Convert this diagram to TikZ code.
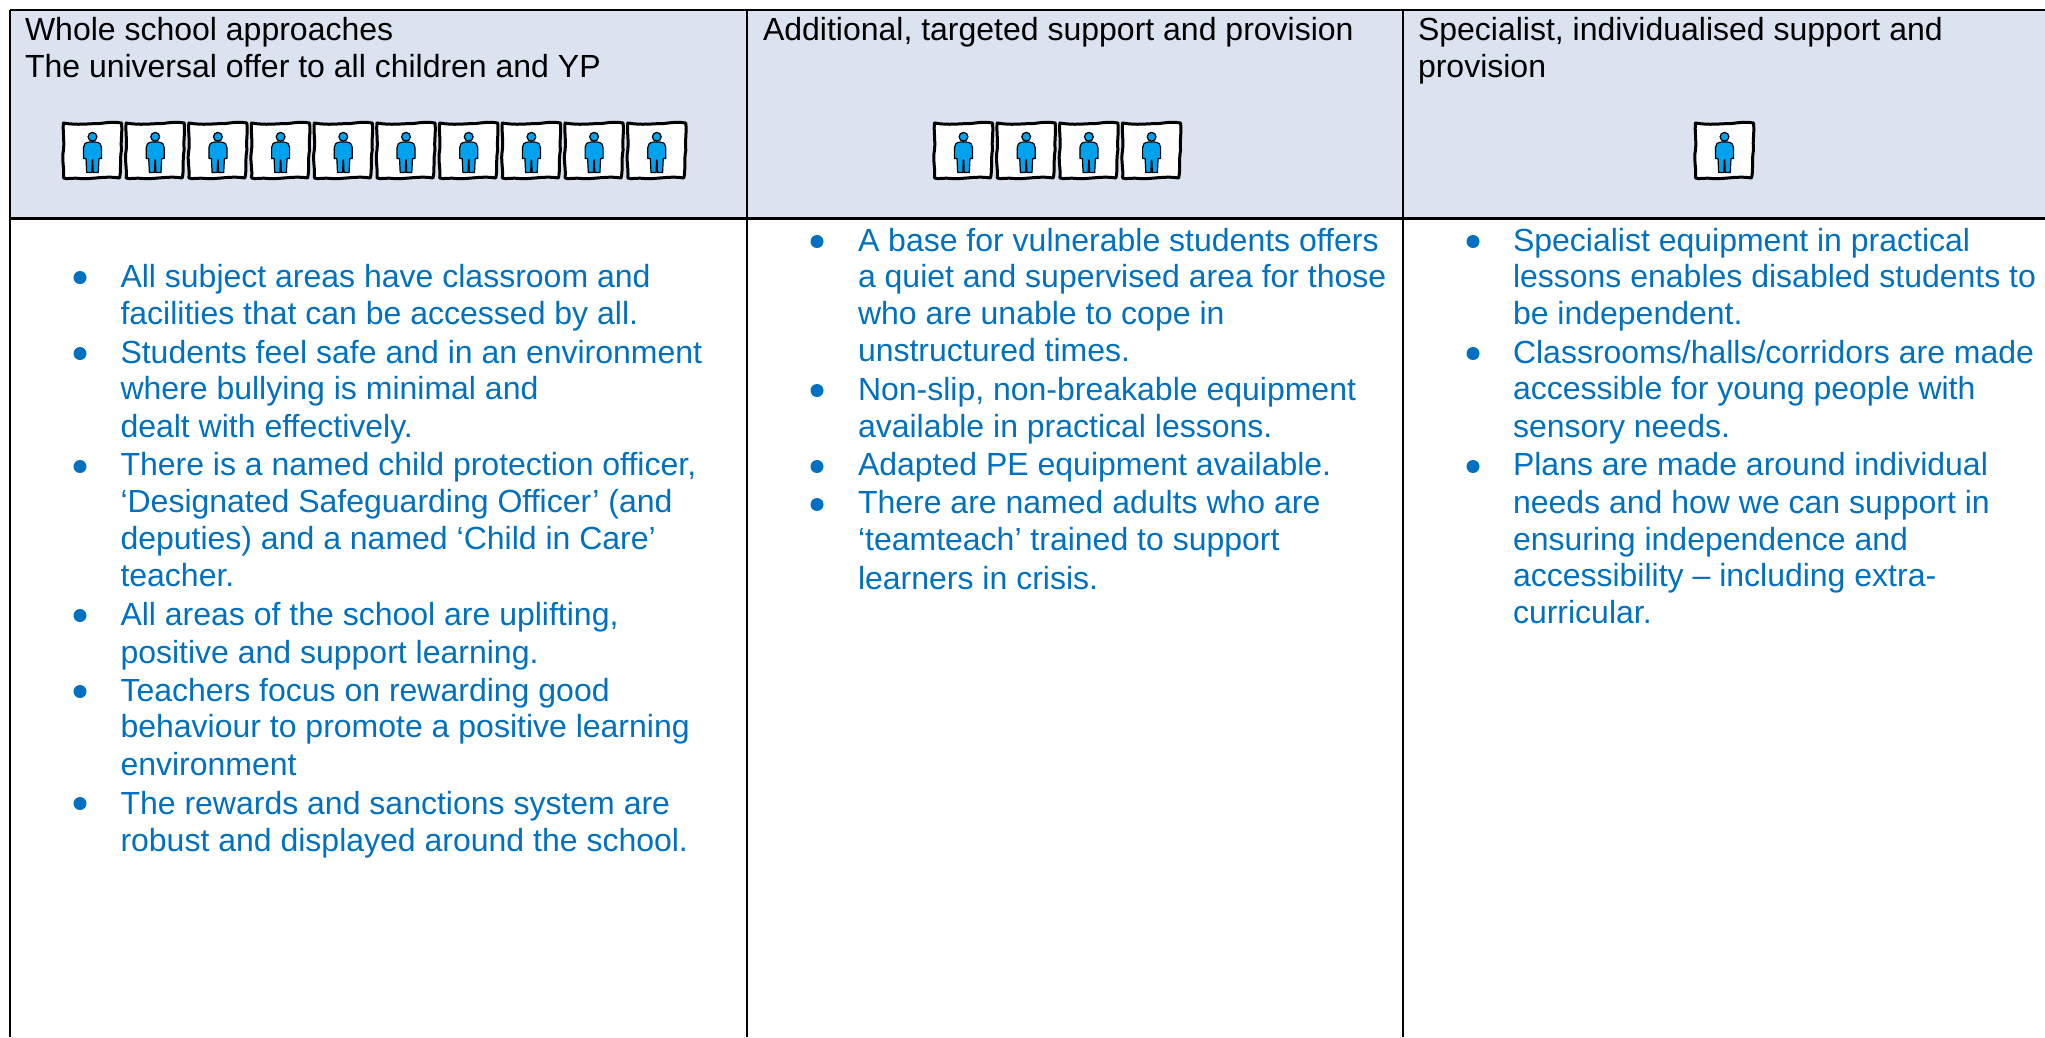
\documentclass[tikz,border=0pt]{standalone}
\usepackage{fontspec}
\setmainfont{Liberation Sans}
\definecolor{headbg}{HTML}{DAE3EF}
\definecolor{bluetxt}{HTML}{0070C0}
\definecolor{personblue}{HTML}{00A2EE}
\tikzset{
  rule/.style={draw=black,line width=2.4pt},
  headtxt/.style={anchor=base west,inner sep=0pt,outer sep=0pt,text=black,font=\fontsize{32}{37}\selectfont},
  bodytxt/.style={anchor=base west,inner sep=0pt,outer sep=0pt,text=bluetxt,font=\fontsize{32}{37}\selectfont},
  bulletdot/.style={circle,fill=bluetxt,inner sep=0pt,minimum size=13pt},
  person/.pic={
    \draw[line width=3pt,fill=white,line join=round]
      (1.5,1) .. controls (16,3.5) and (26,1.5) .. (38,1.5) .. controls (46,0.5) and (52,-0.5) .. (59.5,1)
      .. controls (60.5,12) and (58.5,18) .. (59.5,28) .. controls (57.5,38) and (59.5,48) .. (57.5,56)
      .. controls (44,53.5) and (30,57.5) .. (18,56.5) .. controls (10,55.5) and (5,57.5) .. (1.5,56)
      .. controls (2.5,46) and (-0.5,38) .. (1.5,28) .. controls (2.5,18) and (0.5,8) .. (1.5,1) -- cycle;
    \draw[line width=1.2pt,fill=personblue,line join=round]
      (27.5,20) -- (33.5,20) .. controls (38,20.5) and (39.5,22.5) .. (39.5,25.5) -- (39.5,36.5) -- (37,36.5) -- (36.3,50.5) -- (31.2,50.5) -- (30.7,38) -- (30.3,38) -- (29.8,50.5) -- (24.7,50.5) -- (24,36.5) -- (21.5,36.5) -- (21.5,25.5) .. controls (21.5,22.5) and (23,20.5) .. (27.5,20) -- cycle;
    \draw[line width=1.2pt,fill=personblue] (30.5,14.8) circle (4.4);
  }
}
\newcommand{\hl}[4]{\node[headtxt] (#1) at (#2,#3) {#4};}
\newcommand{\bl}[4]{\node[bodytxt] (#1) at ({#2},{#3+1}) {#4};}
\newcommand{\bu}[3]{\node[bulletdot] (#1) at (#2-1,#3+1.5) {};}
\begin{document}
\begin{tikzpicture}[x=1pt,y=-1pt]
\useasboundingbox (0,0) rectangle (2045,1037);
\coordinate (tl) at (10,10);
\coordinate (tr) at (2045,10);
\coordinate (hl) at (10,218.5);
\coordinate (hr) at (2045,218.5);
\coordinate (bl) at (10,1037);
\coordinate (c1t) at (747,10);
\coordinate (c1b) at (747,1037);
\coordinate (c2t) at (1403,10);
\coordinate (c2b) at (1403,1037);
\fill[headbg] (tl) rectangle (hr);
\draw[rule] (tl) -- (tr);
\draw[rule] (hl) -- (hr);
\draw[rule] (tl) -- (bl);
\draw[rule] (c1t) -- (c1b);
\draw[rule] (c2t) -- (c2b);
% header
\hl{h1a}{25}{40}{Whole school approaches}
\hl{h1b}{25}{77.5}{The universal offer to all children and YP}
\hl{h2a}{763}{40}{Additional, targeted support and provision}
\hl{h3a}{1418}{40}{Specialist, individualised support and}
\hl{h3b}{1418}{77.5}{provision}
% people
\foreach \i in {0,...,9} \pic at ({62+62.7*\i},122) {person};
\foreach \i in {0,...,3} \pic at ({933+62.7*\i},122) {person};
\pic at (1694,122) {person};
% column 1
\bu{b11}{81}{276}\bu{b12}{81}{352}\bu{b13}{81}{465}\bu{b14}{81}{614}\bu{b15}{81}{690}\bu{b16}{81}{802}
\bl{a1}{120.5}{286.5}{All subject areas have classroom and}
\bl{a2}{120.5}{323}{facilities that can be accessed by all.}
\bl{a3}{120.5}{362}{Students feel safe and in an environment}
\bl{a4}{120.5}{398.6}{where bullying is minimal and}
\bl{a5}{120.5}{436.5}{dealt with effectively.}
\bl{a6}{120.5}{474}{There is a named child protection officer,}
\bl{a7}{120.5}{511}{‘Designated Safeguarding Officer’ (and}
\bl{a8}{120.5}{548.6}{deputies) and a named ‘Child in Care’}
\bl{a9}{120.5}{585}{teacher.}
\bl{a10}{120.5}{624}{All areas of the school are uplifting,}
\bl{a11}{120.5}{662}{positive and support learning.}
\bl{a12}{120.5}{700}{Teachers focus on rewarding good}
\bl{a13}{120.5}{736}{behaviour to promote a positive learning}
\bl{a14}{120.5}{774}{environment}
\bl{a15}{120.5}{813}{The rewards and sanctions system are}
\bl{a16}{120.5}{850}{robust and displayed around the school.}
% column 2
\bu{b21}{818}{240}\bu{b22}{818}{389}\bu{b23}{818}{465}\bu{b24}{818}{503}
\bl{m1}{858}{250}{A base for vulnerable students offers}
\bl{m2}{858}{286.5}{a quiet and supervised area for those}
\bl{m3}{858}{323}{who are unable to cope in}
\bl{m4}{858}{360.5}{unstructured times.}
\bl{m5}{858}{399.5}{Non-slip, non-breakable equipment}
\bl{m6}{858}{436.5}{available in practical lessons.}
\bl{m7}{858}{474}{Adapted PE equipment available.}
\bl{m8}{858}{512}{There are named adults who are}
\bl{m9}{858}{549}{‘teamteach’ trained to support}
\bl{m10}{858}{588.5}{learners in crisis.}
% column 3
\bu{b31}{1474}{240}\bu{b32}{1474}{352}\bu{b33}{1474}{465}
\bl{r1}{1513}{250}{Specialist equipment in practical}
\bl{r2}{1513}{286.5}{lessons enables disabled students to}
\bl{r3}{1513}{323}{be independent.}
\bl{r4}{1513}{362}{Classrooms/halls/corridors are made}
\bl{r5}{1513}{398.6}{accessible for young people with}
\bl{r6}{1513}{436.5}{sensory needs.}
\bl{r7}{1513}{474}{Plans are made around individual}
\bl{r8}{1513}{512}{needs and how we can support in}
\bl{r9}{1513}{549}{ensuring independence and}
\bl{r10}{1513}{585}{accessibility – including extra-}
\bl{r11}{1513}{622}{curricular.}
\end{tikzpicture}
\end{document}
